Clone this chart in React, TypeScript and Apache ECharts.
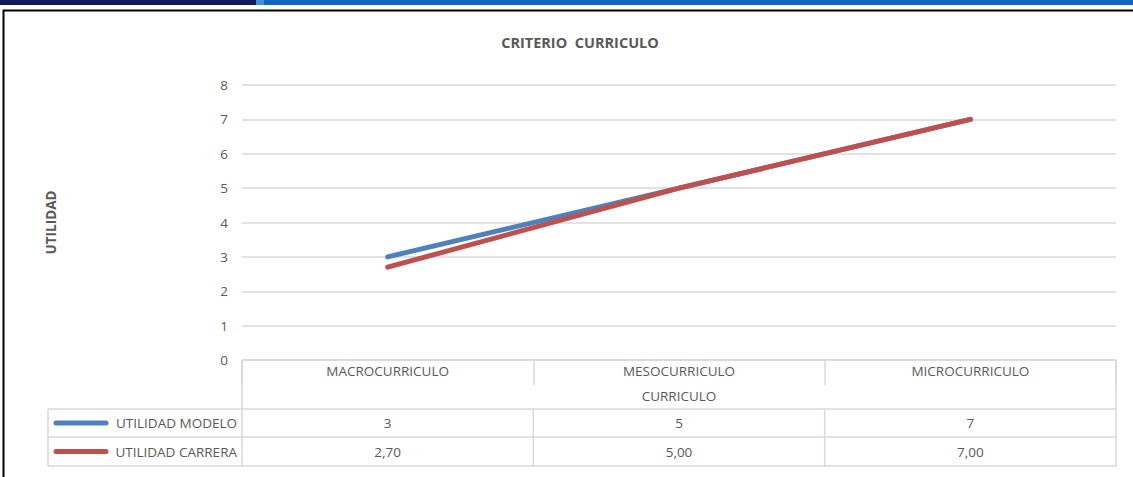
import React, { useEffect, useRef } from "react";
import * as echarts from "echarts";

const categories = ["MACROCURRICULO", "MESOCURRICULO", "MICROCURRICULO"];
const modeloValues = [3, 5, 7];
const carreraValues = [2.7, 5, 7];
const seriesNames = ["UTILIDAD MODELO", "UTILIDAD CARRERA"];
const seriesColors = ["#4f81bd", "#c0504d"];
const chartTitle = "CRITERIO  CURRICULO";
const xAxisName = "CURRICULO";
const yAxisName = "UTILIDAD";
const yMin = 0;
const yMax = 8;
const yStep = 1;

const fmtModelo = (v: number) => String(v);
const fmtCarrera = (v: number) => v.toFixed(2).replace(".", ",");

const FONT = "'Open Sans', Lato, sans-serif";
const TXT = "#595959";
const GRID = "#d9d9d9";
const FS = 13.5;

export default function App() {
  const ref = useRef<HTMLDivElement>(null);
  useEffect(() => {
    if (!ref.current) return;
    const chart = echarts.init(ref.current, null, { renderer: "svg" });
    chart.setOption({
      animation: false,
      backgroundColor: "#ffffff",
      textStyle: { fontFamily: FONT },
      title: {
        text: chartTitle,
        left: 575,
        textAlign: "center",
        top: 30,
        textStyle: { fontFamily: FONT, fontSize: 14.5, fontWeight: "bold", color: TXT },
      },
      grid: { left: 242, right: 17, top: 85, bottom: 117 },
      xAxis: {
        type: "category",
        data: categories,
        boundaryGap: true,
        axisLine: { lineStyle: { color: GRID, width: 1.5 } },
        axisTick: { show: true, interval: 0, length: 25, lineStyle: { color: GRID, width: 1.5 } },
        axisLabel: { color: TXT, fontSize: FS, margin: 4, fontFamily: FONT },
        name: xAxisName,
        nameLocation: "middle",
        nameGap: 29,
        nameTextStyle: { color: TXT, fontSize: FS, fontFamily: FONT },
      },
      yAxis: {
        type: "value",
        min: yMin,
        max: yMax,
        interval: yStep,
        axisLine: { show: false },
        axisTick: { show: false },
        axisLabel: { color: TXT, fontSize: FS, margin: 14, fontFamily: FONT },
        splitLine: { lineStyle: { color: GRID, width: 1.5 } },
        name: yAxisName,
        nameLocation: "middle",
        nameRotate: 90,
        nameGap: 184,
        nameTextStyle: { color: TXT, fontSize: FS, fontWeight: "bold", fontFamily: FONT },
      },
      series: [
        {
          type: "line",
          name: seriesNames[0],
          data: modeloValues,
          symbol: "none",
          lineStyle: { color: seriesColors[0], width: 5, cap: "round" },
        },
        {
          type: "line",
          name: seriesNames[1],
          data: carreraValues,
          symbol: "none",
          lineStyle: { color: seriesColors[1], width: 5, cap: "round" },
        },
      ],
    });

    const xs = categories.map((_, i) => chart.convertToPixel({ xAxisIndex: 0 }, i) as number);
    const step = xs[1] - xs[0];
    const bounds = [xs[0] - step / 2, ...xs.map((x) => x + step / 2)];
    const y0 = chart.convertToPixel({ yAxisIndex: 0 }, 0) as number;
    const legendLeft = 48;
    const rowTops = [y0 + 49, y0 + 77, y0 + 106];
    const right = bounds[bounds.length - 1];
    const ls = { stroke: GRID, lineWidth: 1.5 };
    const g: any[] = [];
    // top bar
    g.push({ type: "rect", shape: { x: 0, y: 0, width: 256, height: 5 }, style: { fill: "#131a5e" }, silent: true });
    g.push({ type: "rect", shape: { x: 256, y: 0, width: 8, height: 5 }, style: { fill: "#3f8fd8" }, silent: true });
    g.push({ type: "rect", shape: { x: 264, y: 0, width: 869, height: 5 }, style: { fill: "#1565c0" }, silent: true });
    // frame
    g.push({
      type: "polyline",
      shape: { points: [[3.5, 477], [3.5, 10.5], [1133, 10.5]] },
      style: { stroke: "#000", lineWidth: 2, fill: "none" },
      silent: true,
    });
    // table horizontal lines
    rowTops.forEach((y) => {
      g.push({ type: "line", shape: { x1: legendLeft, y1: y, x2: right, y2: y }, style: ls, silent: true });
    });
    // verticals
    g.push({ type: "line", shape: { x1: legendLeft, y1: rowTops[0], x2: legendLeft, y2: rowTops[2] }, style: ls, silent: true });
    g.push({ type: "line", shape: { x1: bounds[0], y1: y0, x2: bounds[0], y2: rowTops[2] }, style: ls, silent: true });
    g.push({ type: "line", shape: { x1: right, y1: y0, x2: right, y2: rowTops[2] }, style: ls, silent: true });
    for (let i = 1; i < bounds.length - 1; i++) {
      g.push({ type: "line", shape: { x1: bounds[i], y1: rowTops[0], x2: bounds[i], y2: rowTops[2] }, style: ls, silent: true });
    }
    const rows = [modeloValues.map(fmtModelo), carreraValues.map(fmtCarrera)];
    rows.forEach((vals, r) => {
      const cy = (rowTops[r] + rowTops[r + 1]) / 2;
      vals.forEach((v, i) => {
        g.push({
          type: "text",
          x: xs[i],
          y: cy,
          style: { text: v, fill: TXT, font: `${FS}px ${FONT}`, align: "center", verticalAlign: "middle" },
          silent: true,
        });
      });
      g.push({
        type: "line",
        shape: { x1: 56, y1: cy, x2: 106, y2: cy },
        style: { stroke: seriesColors[r], lineWidth: 5, lineCap: "round" },
        silent: true,
      });
      g.push({
        type: "text",
        x: 237,
        y: cy,
        style: { text: seriesNames[r], fill: TXT, font: `${FS}px ${FONT}`, align: "right", verticalAlign: "middle" },
        silent: true,
      });
    });
    chart.setOption({ graphic: g });
    return () => chart.dispose();
  }, []);
  return (
    <div
      ref={ref}
      style={{ position: "fixed", left: 0, top: 0, width: 1133, height: 477, background: "#fff" }}
    />
  );
}
